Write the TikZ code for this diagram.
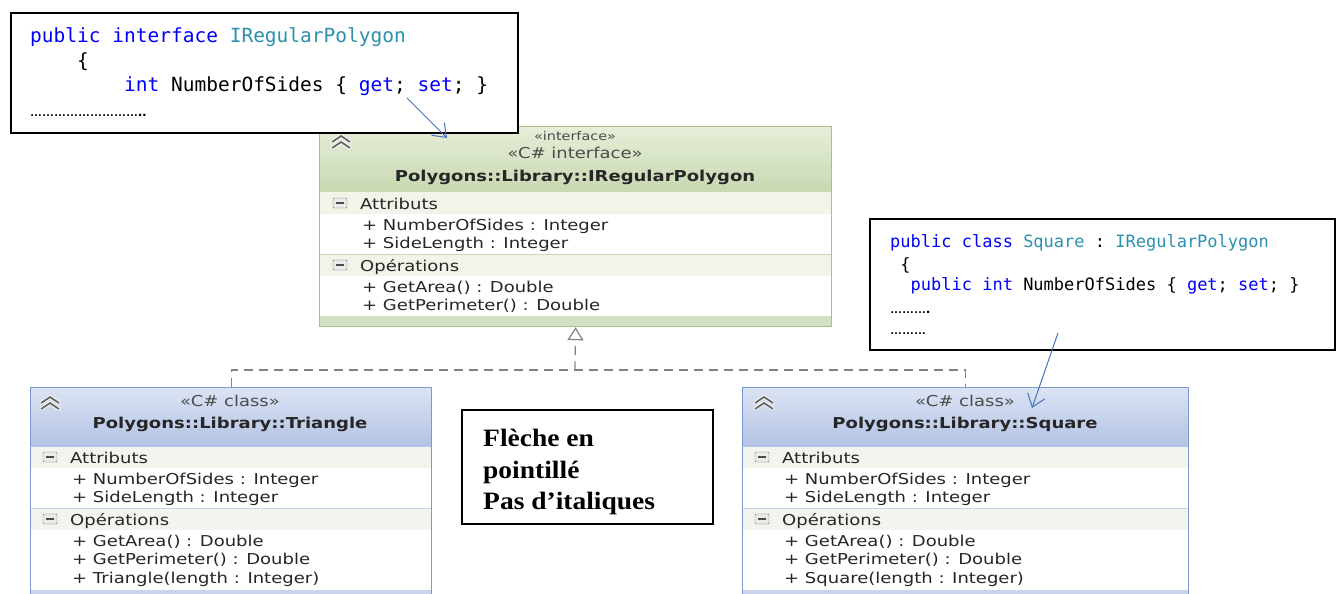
\documentclass[tikz,border=0pt]{standalone}
\usepackage{fontspec}
\setmainfont{DejaVu Sans}
\setmonofont{DejaVu Sans Mono}
\newfontfamily\umlfont{DejaVu Sans}[FakeStretch=1.2]
\newfontfamily\notefont{Liberation Serif}[FakeStretch=1.1]
\newfontfamily\dotfont{Liberation Sans}
\usetikzlibrary{arrows.meta, positioning, calc}
\definecolor{kwblue}{RGB}{0,0,255}
\definecolor{typeteal}{RGB}{43,145,175}
\definecolor{pointer}{RGB}{70,115,190}
\definecolor{ifaceborder}{RGB}{172,190,140}
\definecolor{ifacetop}{RGB}{230,238,216}
\definecolor{ifacebot}{RGB}{200,216,178}
\definecolor{ifacerow}{RGB}{241,245,233}
\definecolor{classborder}{RGB}{125,152,205}
\definecolor{classtop}{RGB}{220,228,244}
\definecolor{classbot}{RGB}{178,194,228}
\definecolor{classrow}{RGB}{242,245,238}
\definecolor{sepline}{RGB}{200,212,232}
\definecolor{realize}{RGB}{130,130,130}

\tikzset{
  codebox/.style={draw=black, line width=1.6pt, fill=white, anchor=north west},
  codeline/.style={anchor=base west, inner sep=0pt, font=\ttfamily\fontsize{19.5}{22}\selectfont},
  smallcode/.style={anchor=base west, inner sep=0pt, font=\ttfamily\fontsize{17}{20}\selectfont},
  dots/.style={anchor=base west, inner sep=0pt, font=\dotfont\bfseries\fontsize{12}{14}\selectfont},
  umltext/.style={anchor=base west, inner sep=0pt, font=\umlfont\fontsize{15}{17}\selectfont, text=black!85},
  umltitle/.style={anchor=base, inner sep=0pt, font=\umlfont\bfseries\fontsize{15}{17}\selectfont, text=black!85},
  stereo/.style={anchor=base, inner sep=0pt, font=\umlfont\fontsize{15}{17}\selectfont, text=black!70},
  notebox/.style={draw=black, line width=1.6pt, anchor=north west, minimum width=251, minimum height=114},
  notetext/.style={anchor=north west, inner sep=0pt, align=left, font=\notefont\bfseries\fontsize{25}{31.5}\selectfont},
  pointer arrow/.style={draw=pointer, line width=1pt, -{Straight Barb[length=12pt,width=18pt]}},
  realization/.style={draw=realize, line width=1.2pt, dash pattern=on 9pt off 6pt},
}

\begin{document}
\begin{tikzpicture}[x=1pt, y=-1pt]
    \useasboundingbox (0,0) rectangle (1339,594);

    % Interface box: header, compartments, border
    \shade[top color=ifacetop, bottom color=ifacebot] (319,126) rectangle (831,192);
    \fill[ifacerow] (319,192) rectangle (831,214);
    \fill[white] (319,214) rectangle (831,254);
    \fill[ifacerow] (319,254) rectangle (831,276);
    \fill[white] (319,276) rectangle (831,316);
    \fill[ifacebot!80] (319,316) rectangle (831,326);
    \draw[ifaceborder!60] (319,254) -- (831,254);
    \node[draw=ifaceborder, line width=1.2pt, minimum width=512, minimum height=200, anchor=north west] (iface) at (319,126) {};

    \node[stereo, font=\umlfont\fontsize{12}{14}\selectfont] at (575,140) {«interface»};
    \node[stereo] at (575,158) {«C\# interface»};
    \node[umltitle] at (575,181) {Polygons::Library::IRegularPolygon};
    \node[umltext] at (360,209) {Attributs};
    \node[umltext] at (362,230) {+ NumberOfSides : Integer};
    \node[umltext] at (362,248) {+ SideLength : Integer};
    \node[umltext] at (360,271) {Opérations};
    \node[umltext] at (362,292) {+ GetArea() : Double};
    \node[umltext] at (362,310) {+ GetPerimeter() : Double};

    % Class boxes (left x / width / centre x / name / constructor)
    \foreach \bx/\bw/\cx/\nm/\ctor in {30/401/230/tri/Triangle, 742/446/965/sq/Square} {
        \shade[top color=classtop, bottom color=classbot] (\bx,387) rectangle (\bx+\bw,447);
        \fill[classrow] (\bx,447) rectangle (\bx+\bw,468);
        \fill[white] (\bx,468) rectangle (\bx+\bw,508);
        \fill[classrow] (\bx,508) rectangle (\bx+\bw,530);
        \fill[white] (\bx,530) rectangle (\bx+\bw,590);
        \fill[classbot!70] (\bx,590) rectangle (\bx+\bw,594);
        \draw[sepline] (\bx,508) -- (\bx+\bw,508);
        \node[draw=classborder, line width=1.2pt, minimum width=\bw, minimum height=214, anchor=north west] (\nm) at (\bx,387) {};

        \node[stereo] at (\cx,406) {«C\# class»};
        \node[umltitle] at (\cx,428) {Polygons::Library::\ctor};
        \node[umltext] at (\bx+40,463) {Attributs};
        \node[umltext] at (\bx+42,484) {+ NumberOfSides : Integer};
        \node[umltext] at (\bx+42,502) {+ SideLength : Integer};
        \node[umltext] at (\bx+40,525) {Opérations};
        \node[umltext] at (\bx+42,546) {+ GetArea() : Double};
        \node[umltext] at (\bx+42,564) {+ GetPerimeter() : Double};
        \node[umltext] at (\bx+42,583) {+ \ctor(length : Integer)};
    }

    % Collapse chevrons in the headers
    \foreach \ix/\iy in {341/137, 50/398, 764/398} {
        \foreach \dy in {0,6} {
            \draw[white, line width=3.5pt, line cap=round] (\ix-9,\iy+\dy+5) -- (\ix,\iy+\dy-1) -- (\ix+9,\iy+\dy+5);
            \draw[black!60, line width=1.8pt] (\ix-9,\iy+\dy+5) -- (\ix,\iy+\dy-1) -- (\ix+9,\iy+\dy+5);
        }
    }

    % Compartment toggles
    \foreach \mx/\my in {340/203, 340/265, 50/457, 50/519, 762/457, 762/519} {
        \draw[black!55, fill=black!8, rounded corners=1pt] (\mx-7,\my-5) rectangle (\mx+7,\my+5);
        \draw[black!70, line width=1.4pt] (\mx-4,\my) -- (\mx+4,\my);
    }

    % Realization: both classes implement the interface
    \coordinate (junction) at (575,370);
    \draw[realization] (tri.north) |- (junction) -| (sq.north);
    \draw[realization, -{Triangle[open, length=13pt, width=16pt, line width=1.2pt]}] (junction) -- (iface.south);

    % Interface source snippet
    \node[codebox, minimum width=507, minimum height=120] (ifacecode) at (10,12) {};
    \node[codeline] at (30,43) {\textcolor{kwblue}{public interface} \textcolor{typeteal}{IRegularPolygon}};
    \node[codeline] at (30,68) {\ \ \ \ \{};
    \node[codeline] at (30,92) {\ \ \ \ \ \ \ \ \textcolor{kwblue}{int} NumberOfSides \{ \textcolor{kwblue}{get}; \textcolor{kwblue}{set}; \}};
    \node[dots] at (30,117) {………………………\fontsize{15}{15}\selectfont..};
    \coordinate (getset) at (407,98);
    \coordinate (ifacehead) at (447,138);
    \draw[pointer arrow] (getset) -- (ifacehead);

    % Square source snippet
    \node[codebox, minimum width=465, minimum height=131] (sqcode) at (869,218) {};
    \node[smallcode] at (890,247) {\textcolor{kwblue}{public class} \textcolor{typeteal}{Square} : \textcolor{typeteal}{IRegularPolygon}};
    \node[smallcode] at (890,270) {\ \{};
    \node[smallcode] at (890,290) {\ \ \textcolor{kwblue}{public int} NumberOfSides \{ \textcolor{kwblue}{get}; \textcolor{kwblue}{set}; \}};
    \node[dots] at (890,313) {………\fontsize{15}{15}\selectfont.};
    \node[dots] at (890,334) {………};
    \coordinate (sqtail) at (1058,333);
    \coordinate (sqhead) at (1032,408);
    \draw[pointer arrow] (sqtail) -- (sqhead);

    % Remark
    \node[notebox] (note) at (461,409) {};
    \node[notetext] (remark) at ($(note.north west)+(22,20)$) {Flèche en\\pointillé\\Pas d’italiques};
\end{tikzpicture}
\end{document}
